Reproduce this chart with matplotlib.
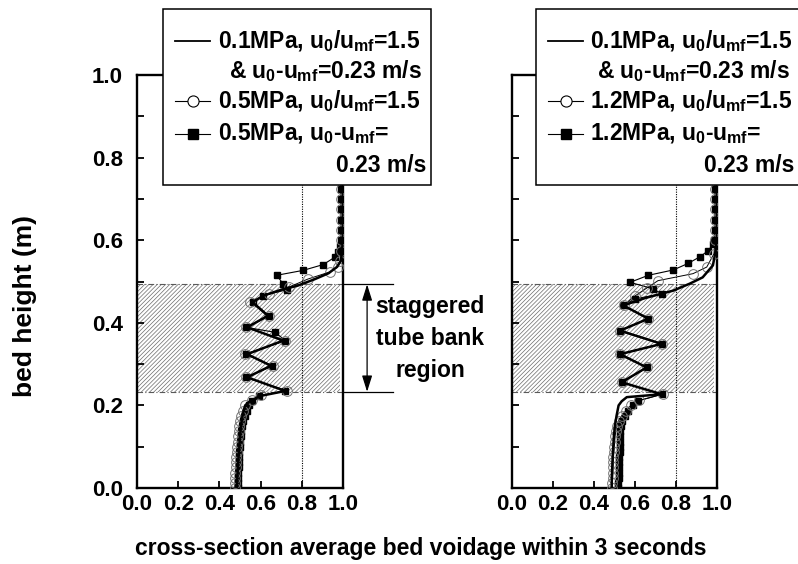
import matplotlib
matplotlib.use('Agg')
import matplotlib.pyplot as plt
import matplotlib.transforms as mtransforms
from matplotlib.patches import Rectangle, FancyArrowPatch
from matplotlib.lines import Line2D

plt.rcParams['font.family'] = ['Liberation Sans', 'DejaVu Sans']
plt.rcParams['font.weight'] = 'bold'
plt.rcParams['mathtext.fontset'] = 'custom'
plt.rcParams['mathtext.rm'] = 'Liberation Sans:bold'
plt.rcParams['mathtext.it'] = 'Liberation Sans:bold'
plt.rcParams['mathtext.bf'] = 'Liberation Sans:bold'
plt.rcParams['mathtext.sf'] = 'Liberation Sans:bold'
plt.rcParams['hatch.linewidth'] = 0.5

# ---------------- data ----------------
xticks = [0.0, 0.2, 0.4, 0.6, 0.8, 1.0]
xtick_labels = ['0.0', '0.2', '0.4', '0.6', '0.8', '1.0']
yticks = [0.0, 0.2, 0.4, 0.6, 0.8, 1.0]
ytick_labels = ['0.0', '0.2', '0.4', '0.6', '0.8', '1.0']
yminor = [0.1, 0.3, 0.5, 0.7, 0.9]

tube_lo = 0.233
tube_hi = 0.493
ref_voidage = 0.8

# left panel: 0.1 MPa reference (solid)
hL_solid = [0.0, 0.025, 0.05, 0.075, 0.1, 0.125, 0.15, 0.175, 0.2, 0.211, 0.223, 0.235,
            0.268, 0.296, 0.324, 0.357, 0.389, 0.417, 0.45, 0.466, 0.48, 0.49, 0.505,
            0.52, 0.535, 0.55, 0.6, 1.0]
vL_solid = [0.485, 0.487, 0.49, 0.493, 0.497, 0.50, 0.505, 0.512, 0.525, 0.55, 0.60, 0.72,
            0.535, 0.65, 0.535, 0.71, 0.535, 0.635, 0.56, 0.615, 0.70, 0.78, 0.86,
            0.93, 0.97, 0.99, 1.0, 1.0]

# left panel: 0.5 MPa, u0/umf = 1.5 (circles)
hL_circ = [0.0, 0.0125, 0.025, 0.0375, 0.05, 0.0625, 0.075, 0.0875, 0.1, 0.1125, 0.125,
           0.1375, 0.15, 0.1625, 0.175, 0.1875, 0.2, 0.212, 0.224, 0.235, 0.268, 0.296,
           0.324, 0.357, 0.389, 0.417, 0.45, 0.47, 0.487, 0.506, 0.523, 0.535, 0.55, 0.575,
           0.6, 0.625, 0.65, 0.675, 0.7, 0.725, 0.75, 0.775, 0.8, 0.825, 0.85, 0.875, 0.9,
           0.925, 0.95, 0.975, 1.0]
vL_circ = [0.475, 0.476, 0.477, 0.478, 0.48, 0.481, 0.482, 0.484, 0.486, 0.488, 0.49,
           0.493, 0.496, 0.50, 0.506, 0.513, 0.525, 0.56, 0.60, 0.73, 0.53, 0.66,
           0.525, 0.72, 0.53, 0.64, 0.55, 0.64, 0.74, 0.83, 0.935, 0.975, 0.985, 0.99,
           0.99, 0.99, 0.99, 0.99, 0.99, 0.99, 0.99, 0.99, 0.99, 0.99, 0.99, 0.99, 0.99,
           0.99, 0.99, 0.99, 0.99]

# left panel: 0.5 MPa, u0-umf = 0.23 m/s (squares)
hL_sq = [0.0, 0.0125, 0.025, 0.0375, 0.05, 0.0625, 0.075, 0.0875, 0.1, 0.1125, 0.125,
         0.1375, 0.15, 0.1625, 0.175, 0.1875, 0.2, 0.211, 0.223, 0.235, 0.268, 0.296,
         0.324, 0.357, 0.377, 0.389, 0.417, 0.45, 0.466, 0.48, 0.494, 0.515, 0.527, 0.541,
         0.559, 0.571, 0.587, 0.6, 0.625, 0.65, 0.675, 0.7, 0.725, 0.75, 0.775, 0.8, 0.825,
         0.85, 0.875, 0.9, 0.925, 0.95, 0.975, 1.0]
vL_sq = [0.49, 0.49, 0.491, 0.492, 0.493, 0.494, 0.495, 0.497, 0.499, 0.501, 0.503,
         0.506, 0.51, 0.515, 0.522, 0.532, 0.545, 0.56, 0.59, 0.72, 0.53, 0.655,
         0.53, 0.72, 0.67, 0.53, 0.64, 0.565, 0.613, 0.727, 0.71, 0.678, 0.807, 0.904,
         0.961, 0.977, 0.985, 0.99, 0.99, 0.99, 0.99, 0.99, 0.99, 0.99, 0.99, 0.99, 0.99,
         0.99, 0.99, 0.99, 0.99, 0.99, 0.99, 0.99]

# right panel: 0.1 MPa reference (solid)
hR_solid = [0.0, 0.025, 0.05, 0.075, 0.1, 0.125, 0.15, 0.175, 0.2, 0.21, 0.22, 0.227,
            0.256, 0.292, 0.324, 0.349, 0.381, 0.41, 0.442, 0.46, 0.478, 0.495, 0.51,
            0.539, 0.565, 0.6, 1.0]
vR_solid = [0.486, 0.487, 0.489, 0.491, 0.494, 0.497, 0.502, 0.51, 0.52, 0.535, 0.56, 0.73,
            0.535, 0.657, 0.527, 0.73, 0.527, 0.665, 0.543, 0.65, 0.787, 0.868, 0.93,
            0.98, 0.99, 1.0, 1.0]

# right panel: 1.2 MPa, u0/umf = 1.5 (circles)
hR_circ = [0.0, 0.0125, 0.025, 0.0375, 0.05, 0.0625, 0.075, 0.0875, 0.1, 0.1125, 0.125,
           0.1375, 0.15, 0.1625, 0.175, 0.1875, 0.2, 0.212, 0.227, 0.256, 0.292, 0.324,
           0.349, 0.381, 0.41, 0.442, 0.465, 0.485, 0.502, 0.519, 0.535, 0.567, 0.6, 0.625,
           0.65, 0.675, 0.7, 0.725, 0.75, 0.775, 0.8, 0.825, 0.85, 0.875, 0.9, 0.925, 0.95,
           0.975, 1.0]
vR_circ = [0.49, 0.49, 0.491, 0.492, 0.493, 0.494, 0.495, 0.497, 0.499, 0.501, 0.503,
           0.506, 0.51, 0.52, 0.535, 0.555, 0.58, 0.62, 0.735, 0.535, 0.66, 0.527,
           0.73, 0.527, 0.665, 0.545, 0.60, 0.66, 0.712, 0.883, 0.95, 0.985, 0.99, 0.99,
           0.99, 0.99, 0.99, 0.99, 0.99, 0.99, 0.99, 0.99, 0.99, 0.99, 0.99, 0.99, 0.99,
           0.99, 0.99]

# right panel: 1.2 MPa, u0-umf = 0.23 m/s (squares)
hR_sq = [0.0, 0.0125, 0.025, 0.0375, 0.05, 0.0625, 0.075, 0.0875, 0.1, 0.1125, 0.125,
         0.1375, 0.15, 0.1625, 0.175, 0.1875, 0.2, 0.211, 0.227, 0.256, 0.292, 0.324,
         0.349, 0.381, 0.41, 0.442, 0.458, 0.47, 0.482, 0.498, 0.515, 0.528, 0.544, 0.56,
         0.575, 0.59, 0.6, 0.625, 0.65, 0.675, 0.7, 0.725, 0.75, 0.775, 0.8, 0.825, 0.85,
         0.875, 0.9, 0.925, 0.95, 0.975, 1.0]
vR_sq = [0.519, 0.519, 0.52, 0.521, 0.522, 0.523, 0.524, 0.525, 0.526, 0.527, 0.527,
         0.527, 0.53, 0.537, 0.55, 0.565, 0.59, 0.616, 0.73, 0.535, 0.657, 0.527,
         0.73, 0.527, 0.665, 0.543, 0.60, 0.73, 0.69, 0.576, 0.665, 0.787, 0.86, 0.917,
         0.958, 0.979, 0.985, 0.99, 0.99, 0.99, 0.99, 0.99, 0.99, 0.99, 0.99, 0.99, 0.99,
         0.99, 0.99, 0.99, 0.99, 0.99, 0.99]

legend_left = ["0.1MPa, $u_0/u_{mf}$=1.5", "& $u_0$-$u_{mf}$=0.23 m/s",
               "0.5MPa, $u_0/u_{mf}$=1.5", "0.5MPa, $u_0$-$u_{mf}$=", "0.23 m/s"]
legend_right = ["0.1MPa, $u_0/u_{mf}$=1.5", "& $u_0$-$u_{mf}$=0.23 m/s",
                "1.2MPa, $u_0/u_{mf}$=1.5", "1.2MPa, $u_0$-$u_{mf}$=", "0.23 m/s"]

# ---------------- figure ----------------
W, H = 798, 564
fig = plt.figure(figsize=(W / 100, H / 100), dpi=100)


def fx(px):
    return px / W


def fy(py):
    return 1 - py / H


axL = fig.add_axes([fx(137), fy(488), (343 - 137) / W, (488 - 75) / H])
axR = fig.add_axes([fx(512), fy(488), (717 - 512) / W, (488 - 75) / H])

FS_TICK = 16
FS_LEG = 16.5
FS_LAB = 16.5
FS_ANN = 16.5
solid_kw = dict(color='k', lw=1.8, zorder=5)
circ_kw = dict(color='k', lw=0.7, marker='o', ms=7, mfc='none', mec='0.45', mew=0.7, zorder=4)
sq_kw = dict(color='k', lw=0.8, marker='s', ms=4, mfc='k', mec='k', zorder=4)

panels = [(axL, hL_solid, vL_solid, hL_circ, vL_circ, hL_sq, vL_sq),
          (axR, hR_solid, vR_solid, hR_circ, vR_circ, hR_sq, vR_sq)]

for ax, hs, vs, hc, vc, hq, vq in panels:
    ax.set_xlim(0, 1)
    ax.set_ylim(0, 1)
    ax.fill_between([0, 0.985], tube_lo, tube_hi, facecolor='none', edgecolor='0.42',
                    hatch='////////', linewidth=0, zorder=1)
    for yy in (tube_lo, tube_hi):
        ax.axhline(yy, color='0.35', lw=0.8, ls=(0, (5, 2, 1, 2)), zorder=2)
    ax.axvline(ref_voidage, color='k', lw=0.8, ls=(0, (1, 1.2)), zorder=2)
    ax.plot(vq, hq, **sq_kw)
    ax.plot(vc, hc, **circ_kw)
    ax.plot(vs, hs, **solid_kw)
    ax.set_xticks(xticks)
    ax.set_xticklabels(xtick_labels, fontsize=FS_TICK, fontweight='bold')
    ax.set_yticks(yticks)
    ax.set_yticks(yminor, minor=True)
    ax.tick_params(axis='both', which='both', direction='in', length=5, width=1.3,
                   top=False, right=False)
    ax.tick_params(axis='x', pad=4)
    ax.tick_params(axis='y', pad=10)
    for sp in ax.spines.values():
        sp.set_linewidth(1.7)

axL.set_yticklabels(ytick_labels, fontsize=FS_TICK, fontweight='bold')
axR.set_yticklabels([])

# ---------------- legends (drawn as boxes above the panels) ----------------
row_y = [41, 71, 101, 134, 166]


def draw_legend(x0, x1, text_left, right_edge, labels):
    rect = Rectangle((fx(x0), fy(185)), fx(x1) - fx(x0), fy(9) - fy(185),
                     transform=fig.transFigure, facecolor='white', edgecolor='k',
                     lw=1.1, zorder=10, clip_on=False)
    fig.add_artist(rect)
    s0, s1 = x0 + 12, x0 + 47
    sm = (s0 + s1) / 2
    # row 1: solid line
    fig.add_artist(Line2D([fx(s0), fx(s1)], [fy(row_y[0])] * 2, transform=fig.transFigure,
                          color='k', lw=1.3, zorder=11))
    # row 3: circle
    fig.add_artist(Line2D([fx(s0), fx(s1)], [fy(row_y[2])] * 2, transform=fig.transFigure,
                          color='k', lw=0.8, zorder=11))
    fig.add_artist(Line2D([fx(sm)], [fy(row_y[2])], transform=fig.transFigure, marker='o',
                          ms=8, mfc='white', mec='k', mew=0.8, zorder=12))
    # row 4: square
    fig.add_artist(Line2D([fx(s0), fx(s1)], [fy(row_y[3])] * 2, transform=fig.transFigure,
                          color='k', lw=0.8, zorder=11))
    fig.add_artist(Line2D([fx(sm)], [fy(row_y[3])], transform=fig.transFigure, marker='s',
                          ms=7, mfc='k', mec='k', zorder=12))
    kw = dict(fontsize=FS_LEG, fontweight='bold', va='center', zorder=13)
    fig.text(fx(text_left), fy(row_y[0]), labels[0], ha='left', **kw)
    fig.text(fx(right_edge), fy(row_y[1]), labels[1], ha='right', **kw)
    fig.text(fx(text_left), fy(row_y[2]), labels[2], ha='left', **kw)
    fig.text(fx(text_left), fy(row_y[3]), labels[3], ha='left', **kw)
    fig.text(fx(right_edge + 4), fy(row_y[4]), labels[4], ha='right', **kw)


draw_legend(163, 431, 218, 422, legend_left)
draw_legend(536, 805, 590, 790, legend_right)

# ---------------- tube bank annotation ----------------
tr = mtransforms.blended_transform_factory(axL.transAxes, axL.transData)
for yy in (tube_lo, tube_hi):
    axL.plot([1.0, 1.243], [yy, yy], transform=tr, color='k', lw=0.9, clip_on=False)
arrow = FancyArrowPatch((1.117, tube_lo), (1.117, tube_hi), transform=tr,
                        arrowstyle='<|-|>,head_length=0.7,head_width=0.22',
                        mutation_scale=14, color='k', lw=0.9, clip_on=False,
                        shrinkA=0, shrinkB=0)
axL.add_artist(arrow)
axL.text(1.422, 0.363, 'staggered\ntube bank\nregion', transform=tr, ha='center',
         va='center', fontsize=FS_ANN, fontweight='bold', linespacing=1.5)

# ---------------- axis titles ----------------
fig.text(fx(25), fy(306), 'bed height (m)', rotation=90, ha='center', va='center',
         fontsize=19, fontweight='bold')
fig.text(fx(421), fy(548), 'cross-section average bed voidage within 3 seconds',
         ha='center', va='center', fontsize=FS_LAB, fontweight='bold')

fig.savefig('out.png', dpi=100)
